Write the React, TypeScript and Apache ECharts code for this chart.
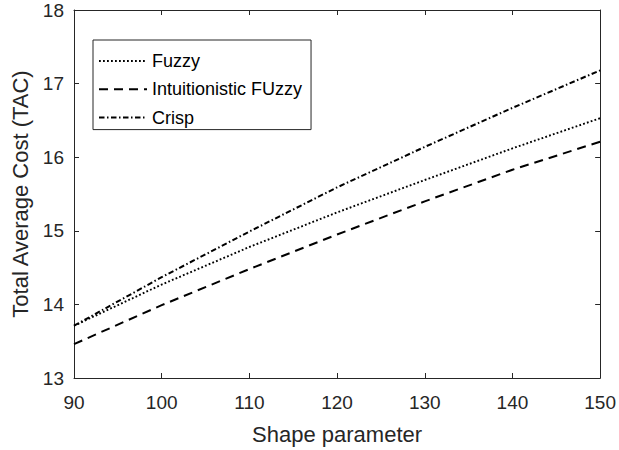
import React, { useEffect, useRef } from "react";
import * as echarts from "echarts";

const xValues = [90, 100, 110, 120, 130, 140, 150];
const fuzzy = [13.71, 14.27, 14.78, 15.25, 15.69, 16.12, 16.53];
const intuitionistic = [13.46, 13.99, 14.48, 14.95, 15.4, 15.83, 16.21];
const crisp = [13.71, 14.37, 14.99, 15.59, 16.14, 16.67, 17.18];
const seriesNames = ["Fuzzy", "Intuitionistic FUzzy", "Crisp"];
const xTitle = "Shape parameter";
const yTitle = "Total Average Cost (TAC)";

const FONT = '"Liberation Sans", Arial, Helvetica, sans-serif';
const AX = "#262626";

export default function App() {
  const ref = useRef<HTMLDivElement>(null);
  useEffect(() => {
    if (!ref.current) return;
    const chart = echarts.init(ref.current, undefined, { renderer: "svg" });
    const pairs = (ys: number[]) => xValues.map((x, i) => [x, ys[i]]);
    const baseX = {
      type: "value" as const,
      min: 90,
      max: 150,
      interval: 10,
      splitLine: { show: false },
      axisLine: { show: true, lineStyle: { color: AX, width: 1 } },
      axisTick: { show: true, inside: true, length: 5, lineStyle: { color: AX } },
    };
    const baseY = {
      type: "value" as const,
      min: 13,
      max: 18,
      interval: 1,
      splitLine: { show: false },
      axisLine: { show: true, lineStyle: { color: AX, width: 1 } },
      axisTick: { show: true, inside: true, length: 5, lineStyle: { color: AX } },
    };
    const line = (name: string, ys: number[], type: any, width: number) => ({
      name,
      type: "line" as const,
      data: pairs(ys),
      showSymbol: false,
      symbol: "none",
      symbolSize: 0,
      lineStyle: { color: "#000", width, type, cap: "butt" },
      itemStyle: { color: "#000" },
      xAxisIndex: 0,
      yAxisIndex: 0,
    });
    chart.setOption({
      animation: false,
      backgroundColor: "#fff",
      textStyle: { fontFamily: FONT },
      grid: { left: 74, right: 17, top: 10, bottom: 68, containLabel: false },
      legend: {
        data: seriesNames,
        orient: "vertical",
        left: 93,
        top: 40,
        padding: [12, 9, 3, 5],
        itemGap: 10.3,
        itemWidth: 48,
        itemHeight: 14,
        backgroundColor: "#fff",
        borderColor: AX,
        borderWidth: 1,
        borderRadius: 0,
        itemStyle: { opacity: 0, borderWidth: 0 },
        textStyle: { fontSize: 18, color: "#000", fontFamily: FONT },
      },
      xAxis: [
        {
          ...baseX,
          position: "bottom",
          name: xTitle,
          nameLocation: "middle",
          nameGap: 45,
          nameTextStyle: { fontSize: 22, color: AX, fontFamily: FONT },
          axisLabel: { show: true, margin: 15, fontSize: 19, color: AX, fontFamily: FONT },
        },
        { ...baseX, position: "top", axisLabel: { show: false } },
      ],
      yAxis: [
        {
          ...baseY,
          position: "left",
          name: yTitle,
          nameLocation: "middle",
          nameGap: 39,
          nameTextStyle: { fontSize: 22, color: AX, fontFamily: FONT },
          axisLabel: { show: true, margin: 10, fontSize: 19, color: AX, fontFamily: FONT },
        },
        { ...baseY, position: "right", axisLabel: { show: false } },
      ],
      series: [
        line(seriesNames[0], fuzzy, [1.8, 2.2], 1.9),
        line(seriesNames[1], intuitionistic, [9, 6], 2),
        line(seriesNames[2], crisp, [5.5, 2.5, 1.5, 2.5], 2),
      ],
    });
    return () => chart.dispose();
  }, []);
  return (
    <div
      ref={ref}
      style={{ position: "fixed", left: 0, top: 0, width: 619, height: 450, background: "#fff" }}
    />
  );
}
